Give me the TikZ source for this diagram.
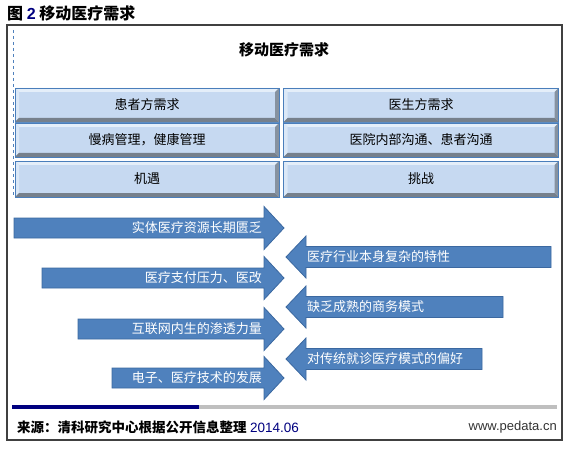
\documentclass[tikz,border=0pt]{standalone}
\usepackage{fontspec}
\newfontfamily\cjk{Noto Sans CJK SC}
\newfontfamily\latin{Liberation Sans}
\definecolor{boxfill}{HTML}{C6D9F1}
\definecolor{boxline}{HTML}{4A7EBB}
\definecolor{bevdark}{HTML}{76808C}
\definecolor{bevlight}{HTML}{E4EEF9}
\definecolor{arrfill}{HTML}{4F81BD}
\definecolor{arrline}{HTML}{3B68A0}
\definecolor{navy}{HTML}{00007F}
\definecolor{bargrey}{HTML}{BFBFBF}
\definecolor{framegrey}{HTML}{404040}
\definecolor{webgrey}{HTML}{333333}
\tikzset{
  bevelbox/.style={draw=boxline, line width=0.8pt, fill=boxfill, inner sep=0pt,
    minimum height=34pt, text=black, font=\cjk\fontsize{13}{13}\selectfont,
    path picture={
      \fill[bevlight] (path picture bounding box.north west) -- (path picture bounding box.north east)
        -- ([shift={(-4pt,-4pt)}]path picture bounding box.north east)
        -- ([shift={(4pt,-4pt)}]path picture bounding box.north west) -- cycle;
      \fill[bevlight!70!boxfill] (path picture bounding box.north west)
        -- ([shift={(4pt,-4pt)}]path picture bounding box.north west)
        -- ([shift={(4pt,4pt)}]path picture bounding box.south west)
        -- (path picture bounding box.south west) -- cycle;
      \fill[bevdark] (path picture bounding box.south west) -- (path picture bounding box.south east)
        -- ([shift={(-4pt,4pt)}]path picture bounding box.south east)
        -- ([shift={(4pt,4pt)}]path picture bounding box.south west) -- cycle;
      \fill[bevdark!80!boxfill] (path picture bounding box.north east) -- (path picture bounding box.south east)
        -- ([shift={(-4pt,4pt)}]path picture bounding box.south east)
        -- ([shift={(-4pt,-4pt)}]path picture bounding box.north east) -- cycle;
    }},
  leftbox/.style={bevelbox, minimum width=264pt},
  rightbox/.style={bevelbox, minimum width=275pt},
  arrshape/.style={fill=arrfill, draw=arrline, line width=0.8pt, line join=miter},
  arrtext/.style={text=white, inner sep=0pt, font=\cjk\fontsize{13}{13}\selectfont},
  titletext/.style={inner sep=0pt, font=\cjk\bfseries\fontsize{15}{15}\selectfont},
}
\begin{document}
\begin{tikzpicture}[x=1pt, y=-1pt]
\useasboundingbox (0,0) rectangle (567,449);
% heading
\node[titletext, anchor=west, font=\cjk\bfseries\fontsize{16}{16}\selectfont] (head) at (7,13) {图 {\latin\color{navy}2} 移动医疗需求};
% frame
\draw[framegrey, line width=1.1pt] (7,25) rectangle (562,440);
\coordinate (dtop) at (13,30);
\coordinate (dbot) at (13,197);
\draw[arrfill, dashed, line width=0.8pt] (dtop) -- (dbot);
\node[titletext] (title) at (284,50) {移动医疗需求};
% boxes
\node[leftbox]  (p1) at (147,105) {患者方需求};
\node[rightbox] (d1) at (421,105) {医生方需求};
\node[leftbox]  (p2) at (147,140) {慢病管理，健康管理};
\node[rightbox] (d2) at (421,140) {医院内部沟通、患者沟通};
\node[leftbox, minimum height=36pt]  (p3) at (147,179) {机遇};
\node[rightbox, minimum height=36pt] (d3) at (421,179) {挑战};
% right-pointing arrows
\foreach \s/\c/\t [count=\i] in {14/228/实体医疗资源长期匮乏, 42/278/医疗支付压力、医改,
    78/329/互联网内生的渗透力量, 112/378/电子、医疗技术的发展}{
  \draw[arrshape] (\s,\c-10) -- (264,\c-10) -- (264,\c-21.5) -- (284,\c)
     -- (264,\c+21.5) -- (264,\c+10) -- (\s,\c+10) -- cycle;
  \node[arrtext, anchor=east] (ra\i) at (262,\c) {\t};
}
% left-pointing arrows
\foreach \e/\c/\t [count=\i] in {551/257/医疗行业本身复杂的特性, 503/307/缺乏成熟的商务模式,
    482/359/对传统就诊医疗模式的偏好}{
  \draw[arrshape] (286,\c) -- (306,\c-21) -- (306,\c-10.5) -- (\e,\c-10.5)
     -- (\e,\c+10.5) -- (306,\c+10.5) -- (306,\c+21) -- cycle;
  \node[arrtext, anchor=west] (la\i) at (307,\c) {\t};
}
% footer bar
\coordinate (bl) at (12,407);
\coordinate (bm) at (199,407);
\coordinate (br) at (557,407);
\draw[bargrey, line width=4pt] (bl) -- (br);
\draw[navy, line width=4pt] (bl) -- (bm);
\node[anchor=west, inner sep=0pt] (src) at (17,427)
  {{\cjk\bfseries\fontsize{13.5}{13.5}\selectfont 来源：清科研究中心根据公开信息整理} {\latin\fontsize{13.5}{13.5}\selectfont\color{navy}2014.06}};
\node[anchor=east, inner sep=0pt, text=webgrey, font=\latin\fontsize{13}{13}\selectfont] (web) at (557,427) {www.pedata.cn};
\end{tikzpicture}
\end{document}
